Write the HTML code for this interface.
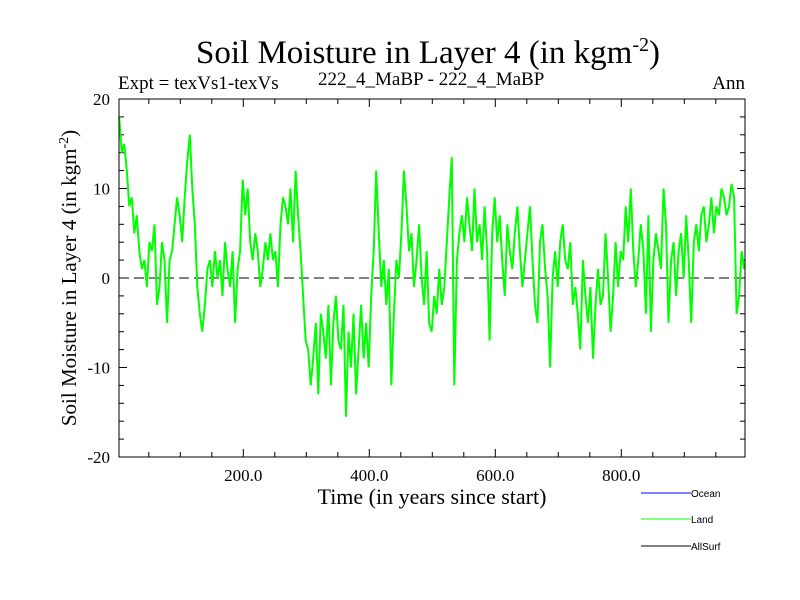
<!DOCTYPE html>
<html><head><meta charset="utf-8"><style>
body{margin:0;background:#fff;width:800px;height:600px;overflow:hidden}
svg{display:block}
.s{font-family:"Liberation Serif",serif;fill:#000}
.l{font-family:"Liberation Sans",sans-serif;font-size:10px;fill:#000}
</style></head><body>
<svg id="chart" width="800" height="600" xmlns="http://www.w3.org/2000/svg">
<text class="s" x="428" y="63" font-size="33" text-anchor="middle">Soil Moisture in Layer 4 (in kgm<tspan dy="-12" font-size="20">-2</tspan><tspan dy="12">)</tspan></text>
<text class="s" x="118" y="89" font-size="19">Expt = texVs1-texVs</text>
<text class="s" x="318" y="85" font-size="19">222_4_MaBP - 222_4_MaBP</text>
<text class="s" x="745" y="89" font-size="19" text-anchor="end">Ann</text>
<g id="axes"></g>
<g id="series"></g>
<rect x="119" y="99" width="626" height="358" fill="none" stroke="#000" stroke-width="1"/>
<text class="s" x="432" y="504" font-size="22" text-anchor="middle">Time (in years since start)</text>
<text class="s" transform="translate(76,278) rotate(-90)" font-size="21" text-anchor="middle">Soil Moisture in Layer 4 (in kgm<tspan dy="-8" font-size="14">-2</tspan><tspan dy="8">)</tspan></text>
<g>
<line x1="641" y1="493" x2="691" y2="493" stroke="#0000ff" stroke-width="1"/>
<text class="l" x="691" y="497">Ocean</text>
<line x1="641" y1="519" x2="691" y2="519" stroke="#00ff00" stroke-width="1"/>
<text class="l" x="691" y="523">Land</text>
<line x1="641" y1="546" x2="691" y2="546" stroke="#000" stroke-width="1"/>
<text class="l" x="691" y="550">AllSurf</text>
</g>
</svg>
<script>
const xTicks=[200,400,600,800];
const xTickLabels=["200.0","400.0","600.0","800.0"];
const yTicks=[-20,-10,0,10,20];
const yTickLabels=["-20","-10","0","10","20"];
const startYear=3;
const yearStep=4;
const landValues=[18,14,15,12,8,9,5,7,3,1,
2,-1,4,3,6,-3,-1,4,2,-5,
2,3,6,9,7,4,9,13,16,10,
6,-1,-4,-6,-3,1,2,-1,3,0,
2,-2,4,1,-1,3,-5,1,3,11,
7,10,4,2,5,3,-1,1,4,2,
5,2,3,-1,6,9,8,6,10,4,
12,7,3,-2,-7,-8,-12,-9,-5,-13,
-4,-6,-9,-3,-12,-5,-2,-7,-8,-3,
-15.5,-6,-10,-4,-13,-8,-3,-9,-5,-10,
-2,3,12,5,-1,2,-3,1,-12,-4,
2,0,5,12,8,3,5,-1,2,6,
0,-3,3,-5,-6,-2,-4,1,-3,-1,
4,9,13.5,-12,2,5,7,4,9,6,
3,10,4,6,2,8,3,-7,5,9,
4,7,2,-2,6,3,1,5,8,3,
-1,2,5,8,2,-3,-5,4,6,1,
-2,-10,0,3,-1,4,6,2,1,4,
-3,-1,-4,-8,2,-2,-5,-1,-9,-3,
1,-3,-2,5,0,-6,-2,4,-1,3,
2,8,4,10,3,-1,2,6,3,-4,
7,-6,2,5,3,1,10,6,-5,2,
4,-2,3,5,0,7,2,-5,4,6,
3,7,8,4,6,9,5,8,7,10,
9,7,8,10.5,9,-4,-2,3,1];
const NS="http://www.w3.org/2000/svg";
const L=119,R=745,T=99,B=457;
const xMin=(L-117.3)/0.63, xMax=(R-117.3)/0.63;
const yMin=-20,yMax=20;
function X(v){return L+(v-xMin)/(xMax-xMin)*(R-L);}
function Y(v){return B-(v-yMin)/(yMax-yMin)*(B-T);}
function mk(tag,at){const e=document.createElementNS(NS,tag);for(const k in at)e.setAttribute(k,at[k]);return e;}
const axes=document.getElementById('axes');
for(let v=50;v<xMax;v+=50){
  const major=v%200===0;const len=major?8:5;
  const t1=mk('line',{x1:X(v),x2:X(v),y1:B,y2:B-len,stroke:'#000'});
  
  
  axes.appendChild(t1);
  const t2=mk('line',{x1:X(v),x2:X(v),y1:T,y2:T+len,stroke:'#000'});
  
  
  axes.appendChild(t2);
}
xTicks.forEach((v,i)=>{
  const t=mk('text',{x:X(v),y:481,'font-size':17,'text-anchor':'middle',class:'s'});
  t.textContent=xTickLabels[i];
  
  
  axes.appendChild(t);
});
for(let v=-18;v<20;v+=2){
  const major=v%10===0;const len=major?8:5;
  const t1=mk('line',{x1:L,x2:L+len,y1:Y(v),y2:Y(v),stroke:'#000'});
  
  
  axes.appendChild(t1);
  const t2=mk('line',{x1:R,x2:R-len,y1:Y(v),y2:Y(v),stroke:'#000'});
  
  
  axes.appendChild(t2);
}
yTicks.forEach((v,i)=>{
  const t=mk('text',{x:110,y:Y(v)+6,'font-size':17,'text-anchor':'end',class:'s'});
  t.textContent=yTickLabels[i];
  
  
  axes.appendChild(t);
});
const zero=mk('line',{x1:L,x2:R,y1:Y(0),y2:Y(0),stroke:'#000','stroke-dasharray':'10,5'});


axes.appendChild(zero);
const pts=landValues.map((v,i)=>X(startYear+i*yearStep).toFixed(1)+','+Y(v).toFixed(1)).join(' ');
const line=mk('polyline',{points:pts,fill:'none',stroke:'#00ff00','stroke-width':2,'stroke-linejoin':'miter'});


document.getElementById('series').appendChild(line);
</script>
</body></html>
